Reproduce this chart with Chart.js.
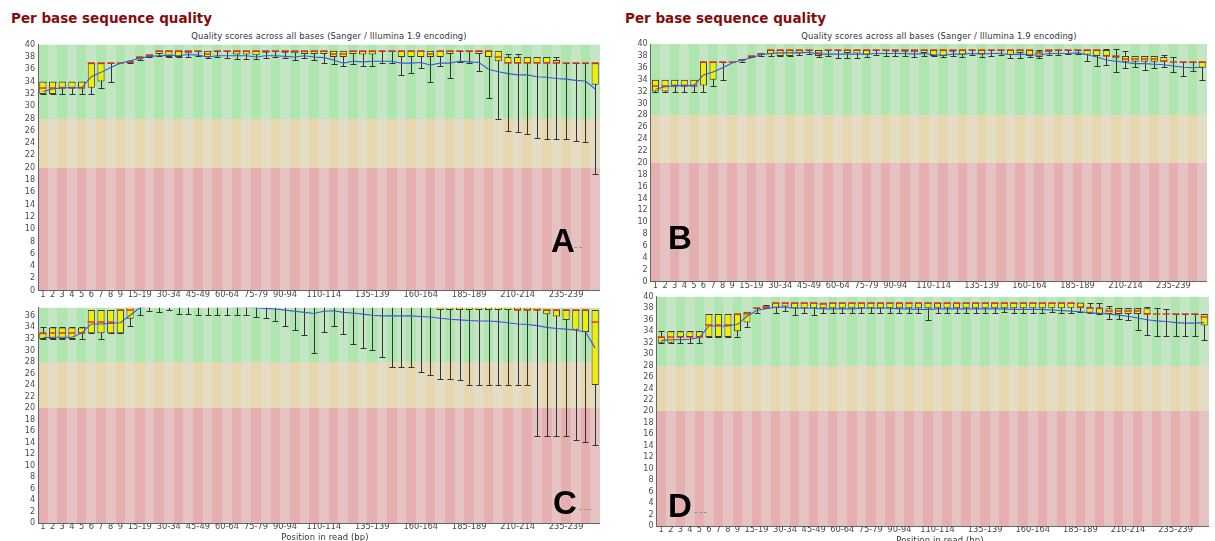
<!DOCTYPE html>
<html>
<head>
<meta charset="utf-8">
<script src="https://cdn.jsdelivr.net/npm/chart.js@4.4.1/dist/chart.umd.min.js"></script>
<style>
  html, body { margin: 0; padding: 0; background: #fff; width: 1215px; height: 541px; overflow: hidden; position: relative; }
  canvas { position: absolute; }
  .heading { position: absolute; top: 11px; font: bold 13.5px/14px "DejaVu Sans", sans-serif; color: #850c0c; white-space: nowrap; }
  .sub { position: absolute; font: 8.4px/10px "DejaVu Sans", sans-serif; letter-spacing: 0.15px; color: #333; white-space: nowrap; transform: translateX(-50%); }
  .letter { position: absolute; font: bold 33px/33px "Liberation Sans", Arial, sans-serif; color: #000; }
  .dash { position: absolute; font: 11px/11px "Liberation Sans", Arial, sans-serif; color: #8a8a8a; letter-spacing: 1px; }
</style>
</head>
<body>
<div class="heading" style="left:11px">Per base sequence quality</div>
<div class="heading" style="left:625px">Per base sequence quality</div>
<div class="sub" style="left:329px;top:31px">Quality scores across all bases (Sanger / Illumina 1.9 encoding)</div>
<div class="sub" style="left:939px;top:31px">Quality scores across all bases (Sanger / Illumina 1.9 encoding)</div>

<canvas id="panelA" width="600" height="270" style="left:0;top:30px"></canvas>
<canvas id="panelB" width="595" height="260" style="left:612px;top:30px"></canvas>
<canvas id="panelC" width="600" height="241" style="left:0;top:300px"></canvas>
<canvas id="panelD" width="597" height="256" style="left:612px;top:289px"></canvas>

<div class="sub" style="left:325px;top:532px">Position in read (bp)</div>
<div class="sub" style="left:940px;top:535px">Position in read (bp)</div>

<div class="letter" style="left:551px;top:224px">A</div>
<div class="dash" style="left:574px;top:241px">--</div>
<div class="letter" style="left:668px;top:221px">B</div>
<div class="letter" style="left:553px;top:486px">C</div>
<div class="dash" style="left:579px;top:503px">---</div>
<div class="letter" style="left:668px;top:489px">D</div>
<div class="dash" style="left:694px;top:506px">---</div>

<script>
// Read positions (single bases, then 5-base groups)
const categories = [
  '1','2','3','4','5','6','7','8','9',
  '10-14','15-19','20-24','25-29','30-34','35-39','40-44','45-49','50-54','55-59',
  '60-64','65-69','70-74','75-79','80-84','85-89','90-94','95-99','100-104','105-109',
  '110-114','115-119','120-124','125-129','130-134','135-139','140-144','145-149','150-154','155-159',
  '160-164','165-169','170-174','175-179','180-184','185-189','190-194','195-199','200-204','205-209',
  '210-214','215-219','220-224','225-229','230-234','235-239','240-244','245-249','250-251'
];
// Labels printed under the x axis
const shownTicks = ['1','2','3','4','5','6','7','8','9','15-19','30-34','45-49','60-64','75-79',
  '90-94','110-114','135-139','160-164','185-189','210-214','235-239'];

// ---- Sample A ----
const meanA = [32.4,32.8,33.0,33.0,33.0,34.8,35.5,36.3,37.0,37.4,
  37.8,38.1,38.2,38.3,38.2,38.4,38.3,38.0,38.2,38.2,
  38.2,38.2,38.0,38.2,38.2,38.1,38.0,38.2,38.0,37.9,
  37.5,37.0,37.3,37.2,37.3,37.3,37.3,37.0,37.0,37.1,
  36.7,37.0,37.0,37.3,37.2,37.1,36.0,35.6,35.3,35.1,
  35.1,34.8,34.7,34.5,34.4,34.2,34.1,32.8];
const medianA = [33,33,33,33,33,37,37,37,37,37.2,
  38,38.3,39,39,39,39,39,38.5,39,39,
  39,39,39,39,39,39,39,39,39,39,
  38.5,38.5,39,39,39,39,39,39,39,39,
  38.5,39,39,39,39,39,39,38,37,37,
  37,37,37,37,37,37,37,37];
const lowerQuartileA = [32,32,33,33,33,33,34,37,37,37,
  37.6,38,38.5,38,38,38.6,39,38,39,39,
  38.4,38.4,38.3,38.7,39,38.7,38.6,38.5,38.5,38.5,
  38,38,38.5,38.4,38.4,39,39,38,38,38,
  38,38,38.5,39,39,38.5,38,37.3,37,37,
  37,37,37,37,37,37,37,33.5];
const upperQuartileA = [34,34,34,34,34,37,37,37,37,37.4,
  38,38.4,39,39,39,39,39,39,39,39,
  39,39,39,39,39,39,39,39,39,39,
  39,39,39,39,39,39,39,39,39,39,
  39,39,39,39,39,39,39,39,38,38,
  38,38,38,37.5,37,37,37,37];
const p10A = [32,32,32,32,32,32,33,34,37,37,
  37.5,38,38.2,38,38,38,38.2,37.9,38,37.8,
  37.6,37.6,37.6,37.9,38,37.8,37.5,37.8,37.5,37,
  36.8,36.5,36.8,36.5,36.6,37,37,35,35.4,36.2,
  34,36.5,34.6,37.2,37,35.8,31.4,28,26,25.8,
  25.5,24.8,24.6,24.6,24.6,24.3,24.2,19];
const p90A = [34,34,34,34,34,37,37,37,37,37.4,
  38,38.4,39,39,39,39,39,39,39,39,
  39,39,39,39,39,39,39,39,39,39,
  39,39,39,39,39,39,39,39,39,39,
  39,39,39,39,39,39,39,39,38.5,38.5,
  38,38,38,38,37,37,37,37];

// ---- Sample B ----
const meanB = [32.4,32.8,33.0,33.0,33.0,34.8,35.3,36.0,36.8,37.3,
  37.7,38.2,38.4,38.5,38.5,38.5,38.6,38.3,38.3,38.3,
  38.3,38.3,38.3,38.4,38.4,38.4,38.4,38.3,38.4,38.2,
  38.1,38.3,38.3,38.4,38.3,38.4,38.4,38.2,38.3,38.2,
  38.1,38.4,38.4,38.4,38.5,38.2,37.8,37.3,37.1,36.9,
  36.7,36.7,36.6,36.5,36.3,36.1,36.0,36.1];
const medianB = [33,33,33,33,33,37,37,37,37,37.3,
  38,38.3,39,39,39,39,39,38.5,39,39,
  39,39,39,39,39,39,39,39,39,39,
  39,39,39,39,39,39,39,39,39,39,
  38.5,39,39,39,39,39,39,38,38,37.5,
  37.5,37.5,37.5,37.2,37,37,37,37];
const lowerQuartileB = [32,32,33,33,33,33,34,37,37,37.2,
  38,38.2,38.3,38,38,38.4,39,38,39,39,
  38.5,38.4,38.2,39,39,38.7,38.7,38.6,38.5,38,
  38,38.7,38.2,39,38.3,39,39,38.2,38.5,38,
  37.8,38.6,39,39,39,38.2,38,38,37.6,37,
  37,37,37,37,37,37,37,36];
const upperQuartileB = [34,34,34,34,34,37,37,37,37,37.4,
  38,38.5,39,39,39,39,39,39,39,39,
  39,39,39,39,39,39,39,39,39,39,
  39,39,39,39,39,39,39,39,39,39,
  38.8,39,39,39,39,39,39,39,38,38,
  38,38,38,37.8,37,37,37,37];
const p10B = [32,32,32,32,32,32,33,34,37,37,
  37.8,38,38,38,38,38.2,38.4,37.8,38,37.6,
  37.6,37.6,37.8,38.2,38,38,37.9,37.8,38,37.9,
  37.8,38,37.8,38.2,37.8,38,38.2,37.6,37.6,37.8,
  37.6,38.2,38.2,38.3,38.3,37.2,36.3,36.5,35.3,35.9,
  36.1,35.7,35.9,36.2,35.3,34.6,35.4,34];
const p90B = [34,34,34,34,34,37,37,37,37,37.4,
  38,38.5,39,39,39,39,39,39,39,39,
  39,39,39,39,39,39,39,39,39,39,
  39,39,39,39,39,39,39,39,39,39,
  39,39,39,39,39,39,39,39.2,39.2,38.8,
  38,38,38,38.1,37.8,37,37,37];

// ---- Sample C ----
const meanC = [32.2,32.3,32.3,32.3,33.0,34.6,34.6,34.7,34.8,36.1,
  37.4,37.6,37.7,37.7,37.7,37.7,37.7,37.6,37.6,37.6,
  37.5,37.5,37.4,37.3,37.2,37.0,36.8,36.6,36.4,36.8,
  36.9,36.6,36.5,36.3,36.1,36.0,36.0,36.0,36.0,35.9,
  35.8,35.6,35.4,35.3,35.2,35.1,35.1,35.0,34.8,34.6,
  34.5,34.3,34.0,33.8,33.7,33.5,33.2,30.4];
const medianC = [33,33,33,33,33,35,35,35,37,37,
  39,39,39,39,39,39,39,39,39,39,
  39,39,39,39,39,39,39,39,39,39,
  39,39,39,39,39,39,39,39,39,39,
  39,38,38,38,38,38,38,38,38,37,
  37,37,37,37,37,37,37,35];
const lowerQuartileC = [32,32,32,32,33,33,33,33,33,35.5,
  38,38,38,38,38,38,38,38,38,38,
  38,38,38,38,38,38,38,38,38,38,
  38,38,38,38,38,38,38,38,38,38,
  38,37,37,37,37,37,37,37,37,37,
  37,37,36.3,35.9,35.3,33.6,33.2,24];
const upperQuartileC = [33,34,34,34,34,37,37,37,37,38,
  39,39,39,39,39,39,39,39,39,39,
  39,39,39,39,39,39,39,39,39,39,
  39,39,39,39,39,39,39,39,39,39,
  39,39,39,39,39,39,39,39,39,38,
  38,38,37,37,37,37,37,37];
const p10C = [32,32,32,32,32,33,32,33,33,34.2,
  36.2,36.8,36.6,37.1,36.3,36.3,36.2,36.2,36.2,36.2,
  36.2,36.2,35.8,35.6,35.1,34.2,33.5,32.6,29.6,33.2,
  34.2,32.9,31.1,30.4,30.0,28.8,27.2,27.1,27.1,26.2,
  25.8,25.0,25.0,24.8,24,24,24,24,24,24,
  24,15.1,15.1,15.1,15.1,14.5,14.1,13.6];
const p90C = [34,34,34,34,34,37,37,37,37,39,
  40,40,40,40,40,40,40,40,40,40,
  40,40,40,40,40,40,40,40,40,40,
  40,40,40,40,40,40,40,40,40,40,
  40,40,40,40,40,40,40,40,40,39,
  39,39,37,37,37,37,37,37];

// ---- Sample D ----
const meanD = [32.4,32.5,32.5,32.6,32.9,34.9,34.9,34.9,35.2,36.6,
  37.6,37.9,38.2,38.2,38.0,38.0,38.0,37.9,37.9,37.9,
  37.9,38.0,38.0,38.0,38.0,37.9,37.9,37.8,37.8,37.9,
  37.9,37.9,37.9,37.9,37.9,37.9,37.9,37.8,37.8,37.8,
  37.8,37.7,37.6,37.5,37.4,37.2,37.1,37.0,36.8,36.6,
  36.3,36.0,35.8,35.7,35.5,35.4,35.4,35.5];
const medianD = [33,33,33,33,33,35,35,35,37,37,
  38,38.3,39,39,39,39,39,38.8,39,39,
  39,39,39,39,39,39,39,39,39,39,
  39,39,39,39,39,39,39,39,39,39,
  39,39,39,39,38.3,38,38,37.5,37.5,37.5,
  37.5,37,37,37,37,37,37,36.5];
const lowerQuartileD = [32,32,33,33,33,33,33,33,34,35.5,
  38,38,38,38.3,38,38,38,38,38,38,
  38,38,38,38,38,38,38,38,38,38,
  38,38,38,38,38,38,38,38,38,38,
  38,38,38,38,38,37.2,37,37,37,37,
  37,37,37,37,37,37,37,35];
const upperQuartileD = [33,34,34,34,34,37,37,37,37,37.4,
  38,38.5,39,39,39,39,39,39,39,39,
  39,39,39,39,39,39,39,39,39,39,
  39,39,39,39,39,39,39,39,39,39,
  39,39,39,39,39,38.2,38,38,38,38,
  38,38,37,37,37,37,37,37];
const p10D = [32,32,32,32,32,33,33,33,33,34.7,
  37.2,38,37.2,37.6,36.8,37.2,36.9,37.2,37.2,37.2,
  37.2,37.2,37.2,37.2,37.2,37.2,37.2,37.2,36,37.2,
  37.2,37.2,37.2,37.2,37.2,37.2,37.4,37.2,37.2,37.2,
  37.2,37.4,37.2,37.2,37.3,37.1,37,36.2,36.2,35.9,
  34.2,33.3,33.1,33.1,33.1,33.1,33.1,32.5];
const p90D = [34,34,34,34,34,37,37,37,37,37.4,
  38,38.5,39,39,39,39,39,39,39,39,
  39,39,39,39,39,39,39,39,39,39,
  39,39,39,39,39,39,39,39,39,39,
  39,39,39,39,39,39,39,38.4,38,38,
  38,38.2,38,37.8,37,37,37,37];

// Quality zones: [dark, light] stripe colours
const ZONE_GOOD = ['rgb(175,229,175)', 'rgb(196,230,196)'];
const ZONE_WARN = ['rgb(230,215,175)', 'rgb(228,220,197)'];
const ZONE_FAIL = ['rgb(229,175,175)', 'rgb(229,195,195)'];
const BOX_FILL = 'rgb(242,238,0)';
const BOX_EDGE = '#3c3c3c';
const WHISKER = '#333333';
const MEDIAN = 'rgb(226,52,36)';
const MEAN = 'rgb(60,90,214)';
const AXIS = '#666666';
const TICK_COLOR = '#4a4a4a';

Chart.defaults.font.family = '"DejaVu Sans", sans-serif';
Chart.defaults.font.size = 8;

// Alternating per-position stripes over the three quality zones
const qualityZones = {
  id: 'qualityZones',
  beforeDraw(chart) {
    const { ctx, chartArea: a, scales: { y } } = chart;
    const n = chart.data.labels.length;
    const w = (a.right - a.left) / n;
    const y28 = Math.round(y.getPixelForValue(28));
    const y20 = Math.round(y.getPixelForValue(20));
    const top = a.top, bottom = a.bottom;
    ctx.save();
    for (let i = 0; i < n; i++) {
      const x0 = Math.round(a.left + i * w);
      const x1 = Math.round(a.left + (i + 1) * w);
      const k = i % 2;
      ctx.fillStyle = ZONE_GOOD[k];
      ctx.fillRect(x0, top, x1 - x0, y28 - top);
      ctx.fillStyle = ZONE_WARN[k];
      ctx.fillRect(x0, y28, x1 - x0, y20 - y28);
      ctx.fillStyle = ZONE_FAIL[k];
      ctx.fillRect(x0, y20, x1 - x0, bottom - y20);
    }
    ctx.restore();
  }
};

// 10th-90th percentile whiskers behind the boxes, median bars on top of them
const boxWhiskers = {
  id: 'boxWhiskers',
  beforeDatasetsDraw(chart) {
    const idx = chart.data.datasets.findIndex(d => d.type === 'bar');
    const ds = chart.data.datasets[idx];
    const meta = chart.getDatasetMeta(idx);
    const { ctx, chartArea: a, scales: { y } } = chart;
    ctx.save();
    ctx.beginPath();
    ctx.rect(a.left, a.top, a.right - a.left, a.bottom - a.top);
    ctx.clip();
    ctx.strokeStyle = WHISKER;
    ctx.lineWidth = 1;
    meta.data.forEach((bar, i) => {
      const lo = ds.low[i], hi = ds.high[i];
      if (hi - lo <= 0) return;
      const cx = Math.round(bar.x) + 0.5;
      const half = Math.round(bar.width * 0.36);
      const yLo = Math.round(y.getPixelForValue(lo)) + 0.5;
      const yHi = Math.round(y.getPixelForValue(hi)) + 0.5;
      ctx.beginPath();
      ctx.moveTo(cx, yLo); ctx.lineTo(cx, yHi);
      ctx.moveTo(cx - half, yLo); ctx.lineTo(cx + half, yLo);
      ctx.moveTo(cx - half, yHi); ctx.lineTo(cx + half, yHi);
      ctx.stroke();
    });
    ctx.restore();
  },
  afterDatasetDraw(chart, args) {
    if (args.meta.type !== 'bar') return;
    const ds = chart.data.datasets[args.index];
    const { ctx, chartArea: a, scales: { y } } = chart;
    ctx.save();
    ctx.beginPath();
    ctx.rect(a.left, a.top, a.right - a.left, a.bottom - a.top);
    ctx.clip();
    ctx.strokeStyle = MEDIAN;
    ctx.lineWidth = 1.5;
    args.meta.data.forEach((bar, i) => {
      const ym = Math.round(y.getPixelForValue(ds.median[i]));
      const half = bar.width / 2;
      ctx.beginPath();
      ctx.moveTo(bar.x - half, ym);
      ctx.lineTo(bar.x + half, ym);
      ctx.stroke();
    });
    ctx.restore();
  }
};

function drawPanel(canvasId, s, g) {
  return new Chart(document.getElementById(canvasId), {
    type: 'bar',
    data: {
      labels: categories,
      datasets: [
        {
          type: 'line',
          data: s.mean,
          borderColor: MEAN,
          borderWidth: 1.1,
          pointRadius: 0,
          tension: 0,
          order: 0
        },
        {
          type: 'bar',
          data: s.q1.map((v, i) => [v, s.q3[i]]),
          low: s.p10,
          high: s.p90,
          median: s.median,
          backgroundColor: BOX_FILL,
          borderColor: BOX_EDGE,
          borderWidth: 1,
          borderSkipped: false,
          barPercentage: 0.74,
          categoryPercentage: 1,
          order: 1
        }
      ]
    },
    options: {
      responsive: false,
      animation: false,
      devicePixelRatio: 1,
      layout: { padding: { top: g.padTop, right: 0, bottom: 0, left: 0 } },
      plugins: { legend: { display: false }, tooltip: { enabled: false }, title: { display: false } },
      scales: {
        x: {
          offset: true,
          grid: { display: false, drawTicks: false },
          border: { display: true, color: AXIS, width: 1 },
          ticks: {
            autoSkip: false, maxRotation: 0, minRotation: 0, padding: -1,
            color: TICK_COLOR, font: { size: 8.3 },
            callback(value) {
              const lab = this.getLabelForValue(value);
              return shownTicks.includes(lab) ? lab : '';
            }
          },
          afterFit(scale) { scale.height = g.axisH; }
        },
        y: {
          min: 0,
          max: g.yMax,
          grid: { display: false, drawTicks: false },
          border: { display: true, color: AXIS, width: 1 },
          ticks: {
            stepSize: 2, includeBounds: false, autoSkip: false, maxTicksLimit: 100,
            padding: 3, color: TICK_COLOR, font: { size: 8 }
          },
          afterFit(scale) { scale.width = g.axisW; }
        }
      }
    },
    plugins: [qualityZones, boxWhiskers]
  });
}

drawPanel('panelA',
  { mean: meanA, median: medianA, q1: lowerQuartileA, q3: upperQuartileA, p10: p10A, p90: p90A },
  { yMax: 40, axisW: 38, axisH: 9.3, padTop: 14.7 });
drawPanel('panelB',
  { mean: meanB, median: medianB, q1: lowerQuartileB, q3: upperQuartileB, p10: p10B, p90: p90B },
  { yMax: 40, axisW: 38.7, axisH: 8.3, padTop: 14 });
drawPanel('panelC',
  { mean: meanC, median: medianC, q1: lowerQuartileC, q3: upperQuartileC, p10: p10C, p90: p90C },
  { yMax: 37.4, axisW: 38, axisH: 17.7, padTop: 1 });
drawPanel('panelD',
  { mean: meanD, median: medianD, q1: lowerQuartileD, q3: upperQuartileD, p10: p10D, p90: p90D },
  { yMax: 40, axisW: 44.5, axisH: 19, padTop: 6.7 });
</script>
</body>
</html>
